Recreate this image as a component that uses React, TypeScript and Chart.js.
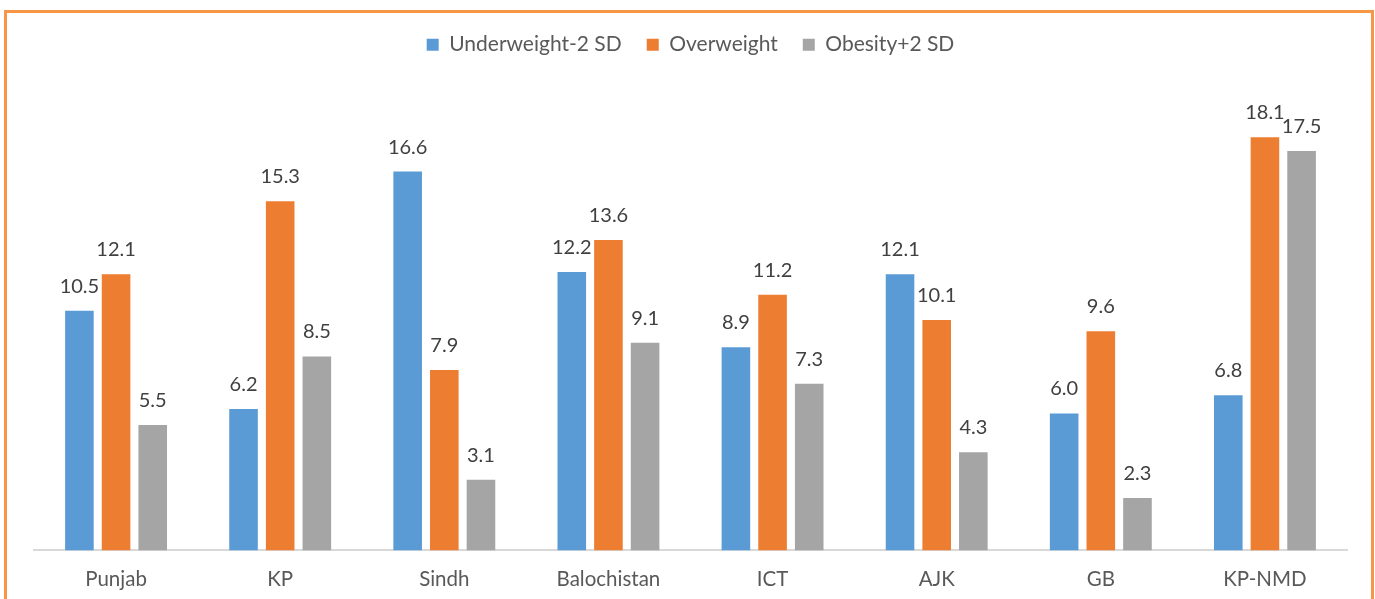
import React, { useEffect, useRef } from "react";
import { Chart, registerables } from "chart.js";

Chart.register(...registerables);

const categories = ["Punjab", "KP", "Sindh", "Balochistan", "ICT", "AJK", "GB", "KP-NMD"];
const underweight = [10.5, 6.2, 16.6, 12.2, 8.9, 12.1, 6.0, 6.8];
const overweight = [12.1, 15.3, 7.9, 13.6, 11.2, 10.1, 9.6, 18.1];
const obesity = [5.5, 8.5, 3.1, 9.1, 7.3, 4.3, 2.3, 17.5];
const seriesNames = ["Underweight-2 SD", "Overweight", "Obesity+2 SD"];
const seriesColors = ["#5B9BD5", "#ED7D31", "#A5A5A5"];

const FONT = "Lato, 'Open Sans', sans-serif";
const CANVAS_H = 620;

const borderPlugin = {
  id: "outerBorder",
  beforeDraw(chart: any) {
    const ctx = chart.ctx;
    ctx.save();
    ctx.fillStyle = "#ffffff";
    ctx.fillRect(0, 0, chart.width, chart.height);
    ctx.strokeStyle = "#F79646";
    ctx.lineWidth = 3;
    ctx.beginPath();
    ctx.moveTo(5.5, chart.height + 10);
    ctx.lineTo(5.5, 11.5);
    ctx.lineTo(1372.5, 11.5);
    ctx.lineTo(1372.5, chart.height + 10);
    ctx.stroke();
    ctx.restore();
  },
};

const labelPlugin = {
  id: "valueLabels",
  afterDatasetsDraw(chart: any) {
    const ctx = chart.ctx;
    ctx.save();
    ctx.font = `20px ${FONT}`;
    ctx.fillStyle = "#404040";
    ctx.textAlign = "center";
    ctx.textBaseline = "alphabetic";
    chart.data.datasets.forEach((ds: any, di: number) => {
      const meta = chart.getDatasetMeta(di);
      meta.data.forEach((bar: any, i: number) => {
        const v = ds.data[i] as number;
        ctx.fillText(v.toFixed(1), bar.x, bar.y - 18);
      });
    });
    ctx.restore();
  },
};

const legendSpacing = {
  id: "legendSpacing",
  beforeInit(chart: any) {
    const legend = chart.legend;
    if (!legend) return;
    const orig = legend.fit;
    legend.fit = function () {
      orig.call(this);
      this.height += 28.8;
    };
  },
};

export default function App() {
  const ref = useRef<HTMLCanvasElement>(null);
  useEffect(() => {
    if (!ref.current) return;
    const chart = new Chart(ref.current, {
      type: "bar",
      data: {
        labels: categories,
        datasets: [underweight, overweight, obesity].map((d, i) => ({
          label: seriesNames[i],
          data: d,
          backgroundColor: seriesColors[i],
          borderWidth: 0,
          barPercentage: 0.78,
          categoryPercentage: 0.67,
        })),
      },
      options: {
        responsive: false,
        animation: false,
        devicePixelRatio: 1,
        layout: { padding: { left: 34, right: 28, top: 9.2, bottom: 11 } },
        plugins: {
          legend: {
            position: "top",
            labels: {
              boxWidth: 12,
              boxHeight: 12,
              padding: 25,
              color: "#595959",
              font: { family: FONT, size: 21 },
            },
          },
          tooltip: { enabled: false },
        },
        scales: {
          x: {
            grid: { display: false, drawTicks: false },
            border: { display: true, color: "#D9D9D9", width: 2 },
            ticks: {
              color: "#595959",
              font: { family: FONT, size: 20.5 },
              padding: 17,
              maxRotation: 0,
            },
          },
          y: {
            display: false,
            min: 0,
            max: 20,
          },
        },
      },
      plugins: [borderPlugin, labelPlugin, legendSpacing],
    });
    return () => chart.destroy();
  }, []);
  return (
    <div style={{ position: "fixed", left: 0, top: 0, width: 1375, height: 599, overflow: "hidden" }}>
      <canvas ref={ref} width={1375} height={CANVAS_H} style={{ width: 1375, height: CANVAS_H, display: "block" }} />
    </div>
  );
}
